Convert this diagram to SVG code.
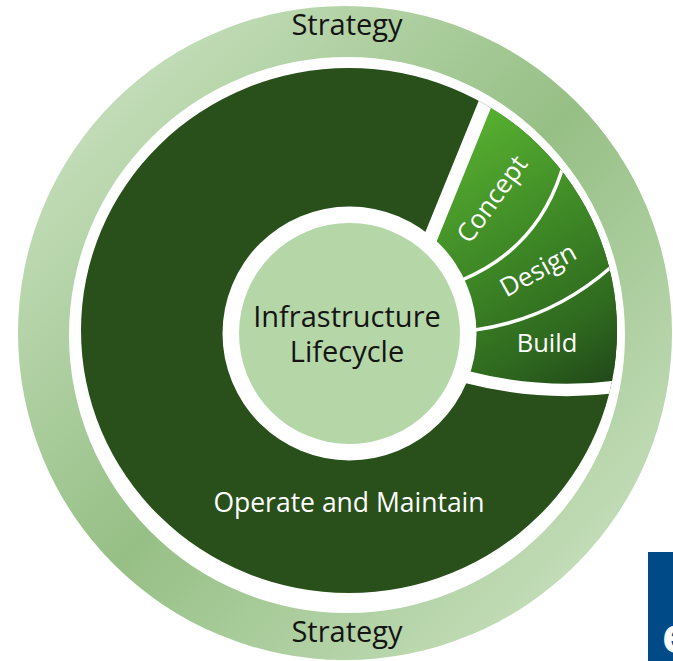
<svg xmlns="http://www.w3.org/2000/svg" width="673" height="661" viewBox="0 0 673 661">
<defs>
<style>
.lbl{font-family:"Open Sans","Noto Sans","Liberation Sans",sans-serif;}
.dk{fill:#141414;}
.wt{fill:#ffffff;}
.sep{fill:none;stroke:#ffffff;}
</style>
<linearGradient id="ringGrad" gradientUnits="userSpaceOnUse" x1="40" y1="30" x2="650" y2="640">
<stop offset="0" stop-color="#cfe5c6"/>
<stop offset="0.5" stop-color="#96bf85"/>
<stop offset="1" stop-color="#cfe5c6"/>
</linearGradient>
<linearGradient id="segGrad" gradientUnits="userSpaceOnUse" x1="470" y1="130" x2="620" y2="380">
<stop offset="0" stop-color="#55ad30"/>
<stop offset="0.4" stop-color="#3f8a26"/>
<stop offset="0.75" stop-color="#2f6a1f"/>
<stop offset="1" stop-color="#214819"/>
</linearGradient>
<clipPath id="discClip">
<ellipse cx="349" cy="330.5" rx="268" ry="262.5"/>
</clipPath>
</defs>
<rect width="673" height="661" fill="#ffffff"/>

<g id="strategy">
<path fill="url(#ringGrad)" fill-rule="evenodd" d="M18,333 A327,327 0 1,0 672,333 A327,327 0 1,0 18,333 Z M69,335 A278,278 0 1,0 625,335 A278,278 0 1,0 69,335 Z"/>
<text class="lbl dk" x="347" y="35" font-size="29" text-anchor="middle">Strategy</text>
<text class="lbl dk" x="347" y="642" font-size="29" text-anchor="middle">Strategy</text>
</g>

<g id="operate">
<ellipse cx="349" cy="330.5" rx="268" ry="262.5" fill="#29501a"/>
<text class="lbl wt" x="349" y="512" font-size="26.5" text-anchor="middle">Operate and Maintain</text>
</g>

<g id="connectors" clip-path="url(#discClip)">
<path class="sep" stroke-width="28" d="M425,270 L497,93"/>
<path class="sep" stroke-width="25" d="M450,370 L468,371 Q544,390.5 620,380 L640,377"/>
</g>

<g id="concept" clip-path="url(#discClip)">
<path fill="url(#segGrad)" d="M425,270 L497,93 L560,60 L640,110 L573,135 L561,173 Q536,249 462,280 L448,286 Z"/>
</g>
<g id="design" clip-path="url(#discClip)">
<path fill="url(#segGrad)" d="M448,286 L462,280 Q536,249 561,173 L573,135 L640,110 L680,230 L625,255 L610,268 Q551.5,319 475,330 L460,332 Z"/>
</g>
<g id="build" clip-path="url(#discClip)">
<path fill="url(#segGrad)" d="M460,332 L475,330 Q551.5,319 610,268 L625,255 L680,230 L700,380 L640,377 L620,380 Q544,390.5 468,371 L450,370 Z"/>
</g>

<g id="separators" clip-path="url(#discClip)">
<path class="sep" stroke-width="3.5" d="M448,286 L462,280 Q536,249 561,173 L573,135"/>
<path class="sep" stroke-width="3.5" d="M460,332 L475,330 Q551.5,319 610,268 L625,255"/>
</g>

<g id="segment-labels">
<text class="lbl wt" font-size="26" text-anchor="middle" transform="translate(492,199) rotate(-54)" y="9">Concept</text>
<text class="lbl wt" font-size="26" text-anchor="middle" transform="translate(538,270) rotate(-29)" y="9">Design</text>
<text class="lbl wt" x="547" y="352" font-size="25.5" text-anchor="middle">Build</text>
</g>

<g id="lifecycle">
<circle cx="349.5" cy="333.5" r="127" fill="#ffffff"/>
<circle cx="349.5" cy="333.5" r="110.5" fill="#b5d7a8"/>
<text class="lbl dk" x="347" y="327" font-size="29" text-anchor="middle">Infrastructure</text>
<text class="lbl dk" x="347" y="362" font-size="29" text-anchor="middle">Lifecycle</text>
</g>

<g id="corner-badge">
<rect x="648" y="552" width="25" height="109" fill="#004a87"/>
<text x="662" y="653" font-family="'Open Sans','Liberation Sans',sans-serif" font-size="48" font-weight="bold" fill="#ffffff">e</text>
</g>
</svg>
